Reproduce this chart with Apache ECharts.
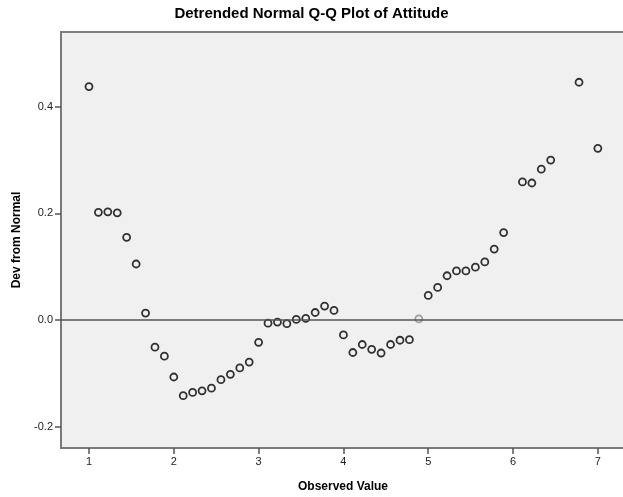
<!DOCTYPE html>
<html>
<head>
<meta charset="utf-8">
<script src="https://cdn.jsdelivr.net/npm/echarts@6/dist/echarts.min.js"></script>
<style>
  html, body { margin: 0; padding: 0; background: #ffffff; }
  #chart { width: 623px; height: 497px; }
</style>
</head>
<body>
<div id="chart"></div>
<script>
// Observed values of Attitude (steps of 1/9) and their deviation from the normal line
const observed = [
  1.000, 1.111, 1.222, 1.333, 1.444, 1.556, 1.667, 1.778, 1.889,
  2.000, 2.111, 2.222, 2.333, 2.444, 2.556, 2.667, 2.778, 2.889,
  3.000, 3.111, 3.222, 3.333, 3.444, 3.556, 3.667, 3.778, 3.889,
  4.000, 4.111, 4.222, 4.333, 4.444, 4.556, 4.667, 4.778, 4.889,
  5.000, 5.111, 5.222, 5.333, 5.444, 5.556, 5.667, 5.778, 5.889,
  6.111, 6.222, 6.333, 6.444, 6.778, 7.000
];
const deviation = [
  0.438, 0.202, 0.203, 0.201, 0.155, 0.105, 0.013, -0.051, -0.068,
  -0.107, -0.142, -0.136, -0.133, -0.128, -0.112, -0.102, -0.090, -0.079,
  -0.042, -0.006, -0.004, -0.007, 0.001, 0.003, 0.014, 0.026, 0.018,
  -0.028, -0.061, -0.046, -0.055, -0.062, -0.046, -0.038, -0.037, 0.002,
  0.046, 0.061, 0.083, 0.092, 0.092, 0.099, 0.109, 0.133, 0.164,
  0.259, 0.257, 0.283, 0.300, 0.446, 0.322
];
const xTicks = [1, 2, 3, 4, 5, 6, 7];
const yTicks = [-0.2, 0.0, 0.2, 0.4];
// observed values whose marker is drawn in a lighter grey
const lightPoints = [4.889];

const titleText = 'Detrended Normal Q-Q Plot of Attitude';
const xName = 'Observed Value';
const yName = 'Dev from Normal';

const points = observed.map((x, i) => {
  const item = { value: [x, deviation[i]] };
  if (lightPoints.includes(x)) {
    item.itemStyle = { borderColor: '#8a8a8a' };
  }
  return item;
});

const font = 'Arial, "Liberation Sans", sans-serif';

const chart = echarts.init(document.getElementById('chart'), null, { renderer: 'canvas' });
chart.setOption({
  animation: false,
  backgroundColor: '#ffffff',
  title: {
    text: titleText,
    left: 'center',
    top: 1,
    textStyle: { fontFamily: font, fontSize: 15, fontWeight: 'bold', color: '#000000' }
  },
  grid: {
    left: 61, top: 32, right: -2, bottom: 49,
    containLabel: false,
    outerBoundsMode: 'none',
    show: true,
    backgroundColor: '#f0f0f0',
    borderColor: '#808080',
    borderWidth: 2
  },
  xAxis: {
    type: 'value',
    min: 0.67, max: 7.32,
    name: xName,
    nameLocation: 'middle',
    nameGap: 33,
    nameTextStyle: { fontFamily: font, fontSize: 12, fontWeight: 'bold', color: '#000000' },
    splitLine: { show: false },
    axisLine: { show: true, onZero: false, lineStyle: { color: '#7a7a7a', width: 2 } },
    axisTick: { show: true, length: 6, customValues: xTicks, lineStyle: { color: '#555555', width: 1.5 } },
    axisLabel: {
      customValues: xTicks,
      margin: 8,
      fontFamily: font, fontSize: 11, color: '#222222'
    }
  },
  yAxis: {
    type: 'value',
    min: -0.2402, max: 0.5403,
    name: yName,
    nameLocation: 'middle',
    nameGap: 37,
    nameTextStyle: { fontFamily: font, fontSize: 12, fontWeight: 'bold', color: '#000000' },
    splitLine: { show: false },
    axisLine: { show: true, onZero: false, lineStyle: { color: '#7a7a7a', width: 2 } },
    axisTick: { show: true, length: 6, customValues: yTicks, lineStyle: { color: '#555555', width: 1.5 } },
    axisLabel: {
      customValues: yTicks,
      margin: 8,
      formatter: v => v.toFixed(1),
      fontFamily: font, fontSize: 11, color: '#222222'
    }
  },
  series: [{
    type: 'scatter',
    data: points,
    symbol: 'circle',
    symbolSize: 7,
    itemStyle: { color: 'rgba(0,0,0,0)', borderColor: '#000000', borderWidth: 1.8 },
    markLine: {
      silent: true,
      symbol: ['none', 'none'],
      label: { show: false },
      lineStyle: { color: '#555555', width: 1.5, type: 'solid' },
      data: [{ yAxis: 0 }]
    }
  }]
});
</script>
</body>
</html>
